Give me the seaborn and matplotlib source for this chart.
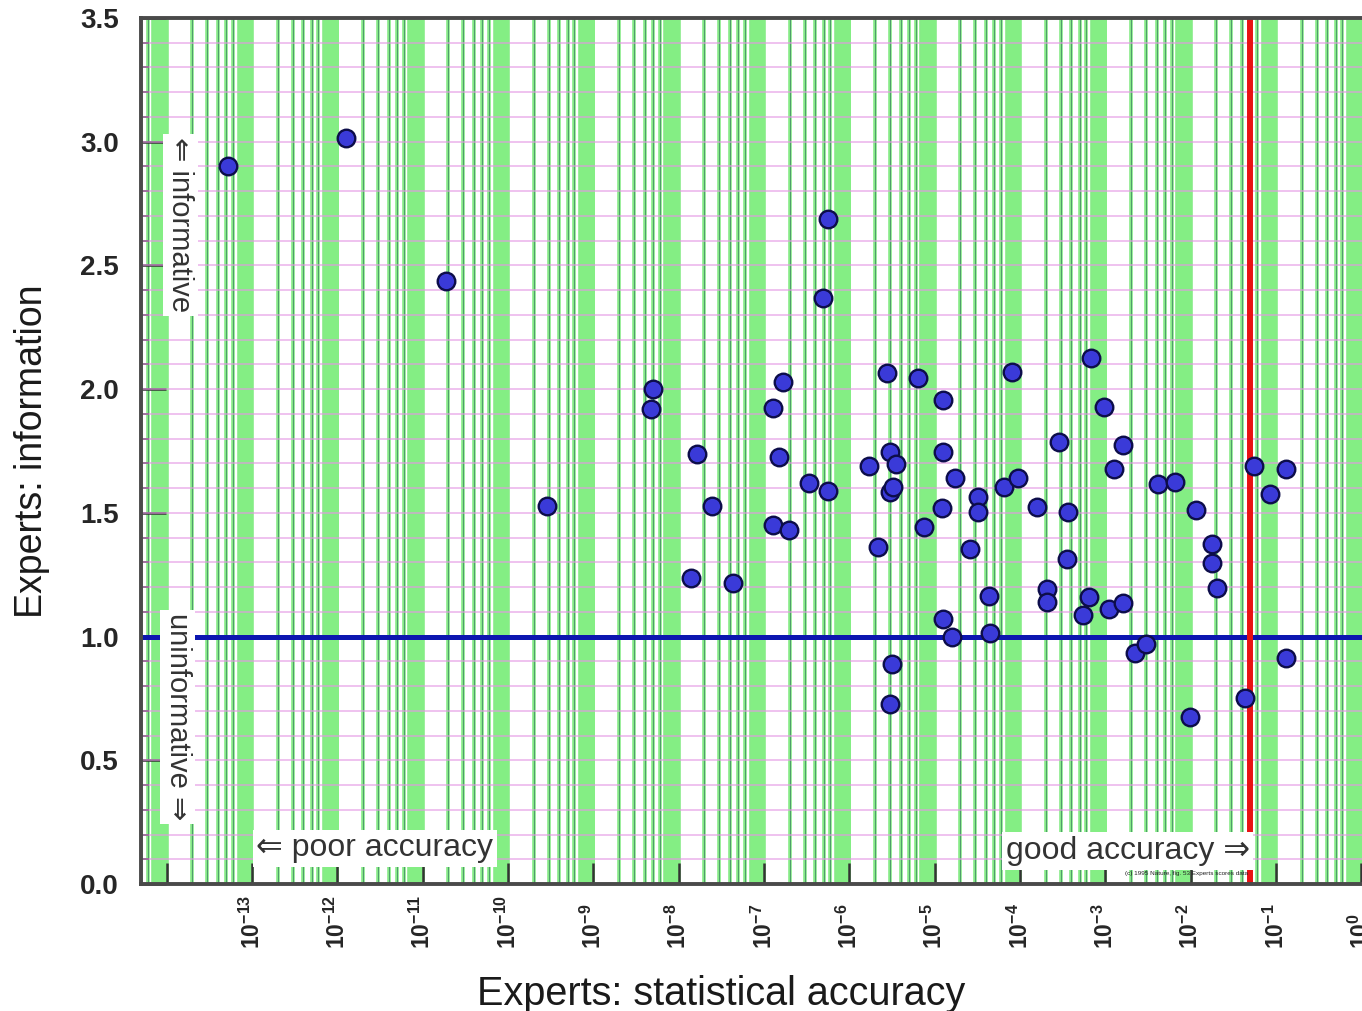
import numpy as np
import pandas as pd
import matplotlib
matplotlib.use("Agg")
import matplotlib.pyplot as plt
import seaborn as sns
from matplotlib.ticker import FixedLocator, NullLocator

# ---------------- data ----------------
accuracy = [
    5.2e-14, 1.26e-12, 1.87e-11, 2.86e-10, 5.0e-9, 4.74e-9, 1.40e-8, 1.64e-8,
    2.46e-8, 4.34e-8, 1.28e-7, 1.67e-7, 1.50e-7, 1.28e-7, 1.96e-7, 3.37e-7,
    5.62e-7, 4.92e-7, 5.62e-7, 1.70e-6, 2.17e-6, 2.77e-6, 3.00e-6, 3.52e-6,
    3.00e-6, 3.25e-6, 3.16e-6, 3.00e-6, 6.38e-6, 7.50e-6, 1.25e-5, 1.25e-5,
    1.22e-5, 1.73e-5, 1.25e-5, 1.60e-5, 2.60e-5, 3.22e-5, 3.22e-5, 4.34e-5,
    4.46e-5, 6.50e-5, 8.05e-5, 9.48e-5, 1.58e-4, 2.07e-4, 2.07e-4, 2.86e-4,
    3.56e-4, 3.66e-4, 5.48e-4, 6.44e-4, 6.80e-4, 9.66e-4, 1.10e-3, 1.26e-3,
    1.61e-3, 1.61e-3, 2.23e-3, 3.00e-3, 4.15e-3, 6.56e-3, 9.84e-3, 1.16e-2,
    1.78e-2, 1.78e-2, 2.04e-2, 4.34e-2, 5.52e-2, 8.51e-2, 0.131, 0.131,
]
information = [
    2.90, 3.015, 2.437, 1.528, 2.001, 1.920, 1.237, 1.738,
    1.527, 1.217, 1.924, 2.029, 1.726, 1.451, 1.431, 1.621,
    2.688, 2.369, 1.589, 1.690, 1.362, 2.065, 1.746, 1.698,
    1.584, 1.605, 0.889, 0.728, 2.045, 1.443, 1.956, 1.746,
    1.520, 1.641, 1.071, 0.998, 1.354, 1.564, 1.504, 1.164,
    1.015, 1.605, 2.070, 1.641, 1.524, 1.192, 1.140, 1.787,
    1.314, 1.504, 1.087, 1.160, 2.126, 1.928, 1.112, 1.677,
    1.774, 1.136, 0.934, 0.970, 1.617, 1.625, 0.675, 1.512,
    1.374, 1.297, 1.196, 0.752, 1.690, 1.576, 1.677, 0.914,
]
threshold_accuracy = 0.05
uninformative_level = 1.0

x_tick_values = [1e-14, 1e-13, 1e-12, 1e-11, 1e-10, 1e-9, 1e-8, 1e-7,
                 1e-6, 1e-5, 1e-4, 1e-3, 1e-2, 1e-1, 1e0]
x_tick_labels = ["", "-13", "-12", "-11", "-10", "-9", "-8", "-7",
                 "-6", "-5", "-4", "-3", "-2", "-1", "0"]
y_tick_values = [0.0, 0.5, 1.0, 1.5, 2.0, 2.5, 3.0, 3.5]
y_tick_labels = ["0.0", "0.5", "1.0", "1.5", "2.0", "2.5", "3.0", "3.5"]

df = pd.DataFrame({"accuracy": accuracy, "information": information})

# ---------------- style ----------------
sns.set_style("white")
plt.rcParams["font.family"] = ["Liberation Sans", "DejaVu Sans"]
plt.rcParams["mathtext.fontset"] = "custom"
plt.rcParams["mathtext.rm"] = "Liberation Sans"
plt.rcParams["mathtext.bf"] = "Liberation Sans:bold"
plt.rcParams["mathtext.default"] = "bf"

W, H = 1362, 1011
fig = plt.figure(figsize=(W / 100, H / 100), dpi=100)
left_px, right_px, top_px, bottom_px = 141, 1362, 18, 884
ax = fig.add_axes([left_px / W, 1 - bottom_px / H,
                   (right_px - left_px) / W, (bottom_px - top_px) / H])
ax.set_facecolor("white")

ax.set_xscale("log")
ax.set_xlim(10 ** -14.30, 10 ** 0.008)
ax.set_ylim(0, 3.5)

# ---------------- background grid ----------------
xt = ax.get_xaxis_transform()
for k in range(-15, 1):
    base = 10.0 ** k
    ax.axvspan(7 * base, 10.4 * base, color="#84ee84", lw=0, zorder=0.5)
    xs = [m * base for m in range(1, 10)]
    ax.vlines(xs, 0, 1, transform=xt, colors="#86ea86", lw=2.6, zorder=0.3)
    ax.vlines(xs, 0, 1, transform=xt, colors="#4f9a6c", lw=0.7, zorder=0.4)

ys = np.round(np.arange(0.1, 3.5, 0.1), 2)
ax.hlines(ys, 0, 1, transform=ax.get_yaxis_transform(),
          colors="#e497e4", lw=1.1, alpha=0.75, zorder=0.6)

# reference lines
ax.axhline(uninformative_level, color="#0c16b0", lw=3.6, zorder=2)
ax.axvline(threshold_accuracy, color="#e81212", lw=4.3, zorder=2)

# ---------------- points ----------------
sns.scatterplot(data=df, x="accuracy", y="information", ax=ax,
                s=160, color="#3a3ad8", edgecolor="#0d0d4a",
                linewidth=1.7, zorder=5, legend=False)

# ---------------- axes / ticks ----------------
for side in ["left", "bottom", "top"]:
    ax.spines[side].set_visible(True)
    ax.spines[side].set_color("#4a4a4a")
    ax.spines[side].set_linewidth(2.8)
    ax.spines[side].set_zorder(6)
ax.spines["right"].set_visible(False)

ax.xaxis.set_major_locator(FixedLocator(x_tick_values))
ax.xaxis.set_minor_locator(NullLocator())
ax.set_xticklabels([("" if e == "" else r"$\mathbf{10^{" + e + "}}$")
                    for e in x_tick_labels])
ax.tick_params(axis="x", which="major", direction="in", length=15, width=1.8,
               color="#333333", pad=47, labelsize=16.5, labelrotation=90,
               bottom=True, top=False)
for lab in ax.get_xticklabels():
    lab.set_rotation_mode("anchor")
    lab.set_ha("left")
    lab.set_va("center")

ax.yaxis.set_major_locator(FixedLocator(y_tick_values))
ax.yaxis.set_minor_locator(FixedLocator(list(ys)))
ax.set_yticklabels(y_tick_labels, fontweight="bold")
ax.tick_params(axis="y", which="major", direction="in", length=18, width=1.8,
               color="#333333", pad=16, labelsize=20, left=True, right=False)
ax.tick_params(axis="y", which="minor", direction="in", length=6, width=1.3,
               color="#333333", left=True, right=False)

ax.set_xlabel("Experts: statistical accuracy", fontsize=28.5, color="#1a1a1a")
ax.set_ylabel("Experts: information", fontsize=27, color="#1a1a1a")
ax.xaxis.set_label_coords(0.475, -0.127)
ax.xaxis.label.set_va("center")
ax.yaxis.set_label_coords(-0.0893, 0.5)
ax.yaxis.label.set_va("center")

# ---------------- annotations ----------------
box = dict(boxstyle="square,pad=0.12", fc="white", ec="none")
ax.text(0.032, 0.761, "\u21d0 informative", transform=ax.transAxes,
        rotation=270, ha="center", va="center", fontsize=21, color="#333333",
        bbox=box, zorder=4)
ax.text(0.030, 0.193, "uninformative \u21d2", transform=ax.transAxes,
        rotation=270, ha="center", va="center", fontsize=21, color="#333333",
        bbox=box, zorder=4)
ax.text(0.1916, 0.041, "\u21d0 poor accuracy", transform=ax.transAxes,
        ha="center", va="center", fontsize=23, color="#333333",
        bbox=box, zorder=4)
ax.text(0.808, 0.038, "good accuracy \u21d2", transform=ax.transAxes,
        ha="center", va="center", fontsize=23, color="#333333",
        bbox=box, zorder=4)
ax.text(0.806, 0.0127, "(c) 1995 Nature, fig. 53 Experts scores data",
        transform=ax.transAxes, ha="left", va="center", fontsize=4.6,
        color="#222222", zorder=4)

fig.savefig("out.png", dpi=100)
